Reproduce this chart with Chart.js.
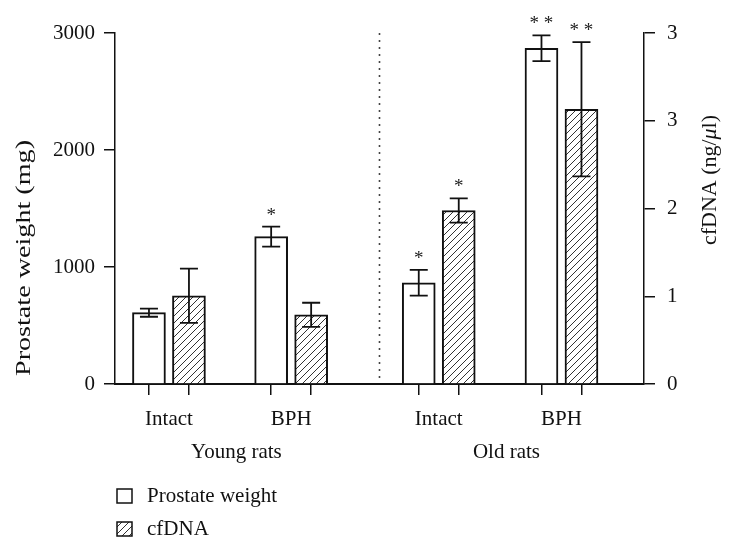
<!DOCTYPE html>
<html>
<head>
<meta charset="utf-8">
<script src="https://cdn.jsdelivr.net/npm/chart.js@4.4.1/dist/chart.umd.min.js"></script>
<style>
  html, body { margin: 0; padding: 0; background: #fff; }
  #wrap { position: relative; width: 729px; height: 553px; }
</style>
</head>
<body>
<div id="wrap"><canvas id="c" width="729" height="553"></canvas></div>
<script>
// ---------------- DATA ----------------
const categories = ['Intact', 'BPH', 'Intact', 'BPH'];
const groupNames = ['Young rats', 'Old rats'];
const seriesNames = ['Prostate weight', 'cfDNA'];
const prostateWeight = [610, 1260, 865, 2870];      // mg
const prostateErr = [35, 85, 110, 110];
const cfDNA = [0.88, 0.69, 1.73, 2.74];              // ng/µl
const cfDNAErr = [0.27, 0.12, 0.12, 0.67];
const prostateSig = ['', '*', '*', '**'];
const cfDNASig = ['', '', '*', '**'];
const leftTicks = [0, 1000, 2000, 3000];
const rightTickLabels = ['0', '1', '2', '3', '3'];
const leftTitle = 'Prostate weight (mg)';
const rightTitleParts = [['cfDNA (ng/', false], ['\u03bc', true], ['l)', false]];

// ---------------- LAYOUT ----------------
const GROUP_X = [1.02, 3.33, 6.12, 8.44];  // x-scale units (0..10)
const BAR_OFF = 0.378;
const DIVIDER_X = 5.0;
const FONT = '"Liberation Serif", "Times New Roman", serif';
const FS = 21;

function hatchPattern() {
  const s = 7;
  const c = document.createElement('canvas');
  c.width = s; c.height = s;
  const g = c.getContext('2d');
  g.fillStyle = '#fff';
  g.fillRect(0, 0, s, s);
  g.strokeStyle = '#333';
  g.lineWidth = 1;
  g.beginPath();
  g.moveTo(-1, s + 1); g.lineTo(s + 1, -1);
  g.moveTo(-1, 1); g.lineTo(1, -1);
  g.moveTo(s - 1, s + 1); g.lineTo(s + 1, s - 1);
  g.stroke();
  return document.getElementById('c').getContext('2d').createPattern(c, 'repeat');
}
const HATCH = hatchPattern();

// x ticks: bar ticks (marks), category labels, group labels
const xTickDefs = [];
GROUP_X.forEach((gx, i) => {
  xTickDefs.push({ value: gx - BAR_OFF, label: '', mark: true });
  xTickDefs.push({ value: gx + BAR_OFF, label: '', mark: true });
  xTickDefs.push({ value: gx, label: categories[i], mark: false });
});
groupNames.forEach((name, i) => {
  xTickDefs.push({ value: (GROUP_X[2 * i] + GROUP_X[2 * i + 1]) / 2 + 0.12, label: ['', name], mark: false });
});
xTickDefs.sort((a, b) => a.value - b.value);

// draw text (list of [string, italic]) rotated -90deg, centred at (cx, cy), stretched to length L
function drawVerticalTitle(ctx, parts, cx, cy, L) {
  ctx.save();
  let total = 0;
  const widths = parts.map(([t, it]) => {
    ctx.font = (it ? 'italic ' : '') + FS + 'px ' + FONT;
    const w = ctx.measureText(t).width;
    total += w;
    return w;
  });
  ctx.translate(cx, cy);
  ctx.rotate(-Math.PI / 2);
  ctx.scale(L / total, 1);
  ctx.fillStyle = '#111';
  ctx.textAlign = 'left';
  ctx.textBaseline = 'middle';
  let x = -total / 2;
  parts.forEach(([t, it], i) => {
    ctx.font = (it ? 'italic ' : '') + FS + 'px ' + FONT;
    ctx.fillText(t, x, 0);
    x += widths[i];
  });
  ctx.restore();
}

const errorBarPlugin = {
  id: 'errbars',
  afterDatasetsDraw(chart) {
    const ctx = chart.ctx;
    const xs = chart.scales.x;
    const specs = [
      { vals: prostateWeight, errs: prostateErr, sig: prostateSig, scale: chart.scales.y, off: -BAR_OFF },
      { vals: cfDNA, errs: cfDNAErr, sig: cfDNASig, scale: chart.scales.y2, off: BAR_OFF }
    ];
    ctx.save();
    ctx.strokeStyle = '#111';
    ctx.lineWidth = 1.8;
    ctx.fillStyle = '#222';
    ctx.font = '19px ' + FONT;
    ctx.textAlign = 'center';
    ctx.textBaseline = 'middle';
    specs.forEach(sp => {
      sp.vals.forEach((v, i) => {
        const x = xs.getPixelForValue(GROUP_X[i] + sp.off);
        const yt = sp.scale.getPixelForValue(v + sp.errs[i]);
        const yb = sp.scale.getPixelForValue(v - sp.errs[i]);
        const hw = 9;
        ctx.beginPath();
        ctx.moveTo(x, yt); ctx.lineTo(x, yb);
        ctx.moveTo(x - hw, yt); ctx.lineTo(x + hw, yt);
        ctx.moveTo(x - hw, yb); ctx.lineTo(x + hw, yb);
        ctx.stroke();
        if (sp.sig[i]) {
          ctx.fillText(sp.sig[i].split('').join(' '), x, yt - 11);
        }
      });
    });
    // divider
    const dx = xs.getPixelForValue(DIVIDER_X);
    ctx.strokeStyle = '#444';
    ctx.lineWidth = 1.6;
    ctx.setLineDash([2, 5]);
    ctx.beginPath();
    ctx.moveTo(dx, chart.chartArea.top);
    ctx.lineTo(dx, chart.chartArea.bottom - 2);
    ctx.stroke();
    ctx.setLineDash([]);

    // axis titles (both read bottom to top)
    drawVerticalTitle(ctx, [[leftTitle, false]], 24, 258, 236);
    drawVerticalTitle(ctx, rightTitleParts, 710, 180, 130);

    // legend
    const items = [
      { label: seriesNames[0], fill: '#fff', y: 496 },
      { label: seriesNames[1], fill: HATCH, y: 529 }
    ];
    items.forEach(it => {
      ctx.fillStyle = it.fill;
      ctx.fillRect(117, it.y - 7, 15, 14);
      ctx.strokeStyle = '#111';
      ctx.lineWidth = 1.5;
      ctx.strokeRect(117, it.y - 7, 15, 14);
      ctx.fillStyle = '#111';
      ctx.textAlign = 'left';
      ctx.font = FS + 'px ' + FONT;
      ctx.fillText(it.label, 147, it.y);
    });
    ctx.restore();
  }
};

new Chart(document.getElementById('c'), {
  type: 'bar',
  data: {
    datasets: [
      {
        label: seriesNames[0],
        data: prostateWeight.map((v, i) => ({ x: GROUP_X[i] - BAR_OFF, y: v })),
        yAxisID: 'y',
        backgroundColor: '#fff',
        borderColor: '#111',
        borderWidth: 2,
        grouped: false,
        barThickness: 33
      },
      {
        label: seriesNames[1],
        data: cfDNA.map((v, i) => ({ x: GROUP_X[i] + BAR_OFF, y: v })),
        yAxisID: 'y2',
        backgroundColor: HATCH,
        borderColor: '#111',
        borderWidth: 2,
        grouped: false,
        barThickness: 33
      }
    ]
  },
  options: {
    responsive: false,
    animation: false,
    layout: { padding: { top: 33, left: 0, right: 0, bottom: 0 } },
    plugins: { legend: { display: false }, tooltip: { enabled: false } },
    scales: {
      x: {
        type: 'linear',
        offset: false,
        min: 0, max: 10,
        afterBuildTicks(scale) { scale.ticks = xTickDefs.map(t => ({ value: t.value })); },
        afterFit(scale) { scale.height = 169; },
        ticks: {
          autoSkip: false, maxRotation: 0, minRotation: 0,
          padding: 8,
          color: '#111',
          font: { family: FONT, size: FS, lineHeight: '33px' },
          callback: (v, i) => xTickDefs[i] ? xTickDefs[i].label : ''
        },
        grid: {
          offset: false,
          drawOnChartArea: false, drawTicks: true, tickLength: 11, lineWidth: 1.5,
          color: (c) => (xTickDefs[c.index] && xTickDefs[c.index].mark) ? '#111' : 'rgba(0,0,0,0)'
        },
        border: { color: '#111', width: 2 }
      },
      y: {
        position: 'left',
        min: 0, max: 3000,
        afterBuildTicks(scale) { scale.ticks = leftTicks.map(v => ({ value: v })); },
        afterFit(scale) { scale.width = 115; },
        ticks: { color: '#111', padding: 9, font: { family: FONT, size: FS }, callback: (v) => String(v) },
        grid: { drawOnChartArea: false, tickLength: 11, color: '#111', lineWidth: 1.5 },
        border: { color: '#111', width: 1.5 }
      },
      y2: {
        position: 'right',
        min: 0, max: 3.5,
        afterBuildTicks(scale) { scale.ticks = rightTickLabels.map((l, i) => ({ value: i * 0.875 })); },
        afterFit(scale) { scale.width = 85; },
        ticks: { color: '#111', padding: 12, font: { family: FONT, size: FS }, callback: (v, i) => rightTickLabels[i] },
        grid: { drawOnChartArea: false, tickLength: 11, color: '#111', lineWidth: 1.5 },
        border: { color: '#111', width: 1.5 }
      }
    }
  },
  plugins: [errorBarPlugin]
});
</script>
</body>
</html>
